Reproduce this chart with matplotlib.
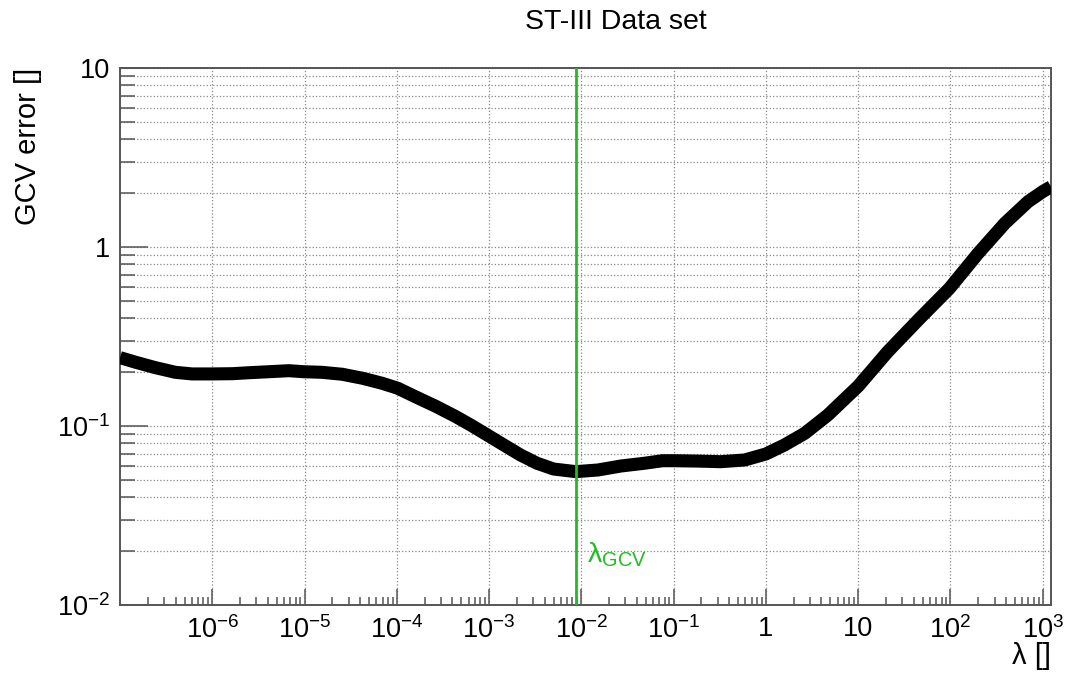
import numpy as np
import matplotlib.pyplot as plt
from matplotlib.ticker import FixedLocator, FuncFormatter, NullFormatter

plt.rcParams['font.family'] = ['Liberation Sans', 'DejaVu Sans']
plt.rcParams['mathtext.fontset'] = 'custom'
plt.rcParams['mathtext.rm'] = 'Liberation Sans'
plt.rcParams['mathtext.it'] = 'Liberation Sans:italic'

# GCV error curve (log10 of lambda, error value)
log_lam = [-7.0, -6.83, -6.62, -6.40, -6.22, -6.0, -5.78, -5.60, -5.39, -5.17,
           -5.01, -4.81, -4.59, -4.37, -4.16, -3.99, -3.80, -3.58, -3.37,
           -3.20, -3.02, -2.84, -2.66, -2.48, -2.30, -2.06, -1.82, -1.57,
           -1.32, -1.12, -0.99, -0.74, -0.49, -0.23, 0.0, 0.20, 0.42, 0.67,
           1.0, 1.32, 1.65, 1.99, 2.30, 2.59, 2.84, 3.0, 3.09]
gcv_err = [0.241, 0.227, 0.212, 0.1995, 0.1954, 0.1954, 0.196, 0.1985, 0.201,
           0.2037, 0.201, 0.1995, 0.1945, 0.1847, 0.1733, 0.1625, 0.1458,
           0.129, 0.1135, 0.1013, 0.0891, 0.0783, 0.0689, 0.0619, 0.0575,
           0.0556, 0.0568, 0.0598, 0.0619, 0.064, 0.064, 0.0637, 0.0632,
           0.0646, 0.0698, 0.0783, 0.091, 0.115, 0.167, 0.26, 0.391, 0.588,
           0.922, 1.357, 1.79, 2.04, 2.17]
lam_gcv = 8.8e-3

x_major = [1e-6, 1e-5, 1e-4, 1e-3, 1e-2, 1e-1, 1, 10, 1e2, 1e3]
y_major = [1e-2, 1e-1, 1, 10]

lam = 10 ** np.array(log_lam)


def log_label(v, pos):
    e = int(round(np.log10(v)))
    if e == 0:
        return '1'
    if e == 1:
        return '10'
    if e > 0:
        return r'$\mathregular{10^{%d}}$' % e
    return r'$\mathregular{10^{-%d}}$' % (-e)


fig = plt.figure(figsize=(10.65, 6.73), dpi=100)
ax = fig.add_axes([0.1127, 0.1010, 0.8742, 0.7980])

ax.plot(lam, gcv_err, color='black', lw=9.4, solid_capstyle='butt',
        solid_joinstyle='round', zorder=3)
ax.axvline(lam_gcv, color='#22bb22', lw=2, zorder=4)
ax.text(1.15e-2, 0.0172, r'$\mathregular{λ_{GCV}}$', color='#22bb22',
        fontsize=20.5, ha='left', va='baseline', zorder=5)

ax.set_xscale('log')
ax.set_yscale('log')
ax.set_xlim(1e-7, 1.23e3)
ax.set_ylim(1e-2, 10)

ax.xaxis.set_major_locator(FixedLocator(x_major))
ax.yaxis.set_major_locator(FixedLocator(y_major))
x_minor = [m * 10.0 ** d for d in range(-7, 3) for m in range(2, 10)]
y_minor = [m * 10.0 ** d for d in range(-2, 1) for m in range(2, 10)]
ax.xaxis.set_minor_locator(FixedLocator(x_minor))
ax.yaxis.set_minor_locator(FixedLocator(y_minor))
ax.xaxis.set_major_formatter(FuncFormatter(log_label))
ax.yaxis.set_major_formatter(FuncFormatter(log_label))
ax.xaxis.set_minor_formatter(NullFormatter())
ax.yaxis.set_minor_formatter(NullFormatter())

ax.tick_params(axis='both', which='both', direction='in', color='#555555',
               width=1.1, labelsize=19.5, top=False, right=False)
ax.tick_params(axis='x', which='major', length=11.5, pad=8)
ax.tick_params(axis='x', which='minor', length=5.8)
ax.tick_params(axis='y', which='major', length=20, pad=7)
ax.tick_params(axis='y', which='minor', length=10.8)

ax.xaxis.grid(True, which='major', ls=':', color='#888888', lw=0.9)
ax.yaxis.grid(True, which='both', ls=':', color='#888888', lw=0.9)
ax.set_axisbelow(True)

for s in ax.spines.values():
    s.set_color('#555555')
    s.set_linewidth(1.4)

fig.text(616 / 1065, 1 - 22 / 673, 'ST-III Data set', fontsize=20.5,
         ha='center', va='center')
fig.text(28 / 1065, 1 - 68 / 673, 'GCV error []', fontsize=21, rotation=90,
         ha='center', va='top')
fig.text(1051 / 1065, 1 - 642 / 673, 'λ []', fontsize=21, ha='right', va='top')

fig.savefig('out.png', dpi=100)
